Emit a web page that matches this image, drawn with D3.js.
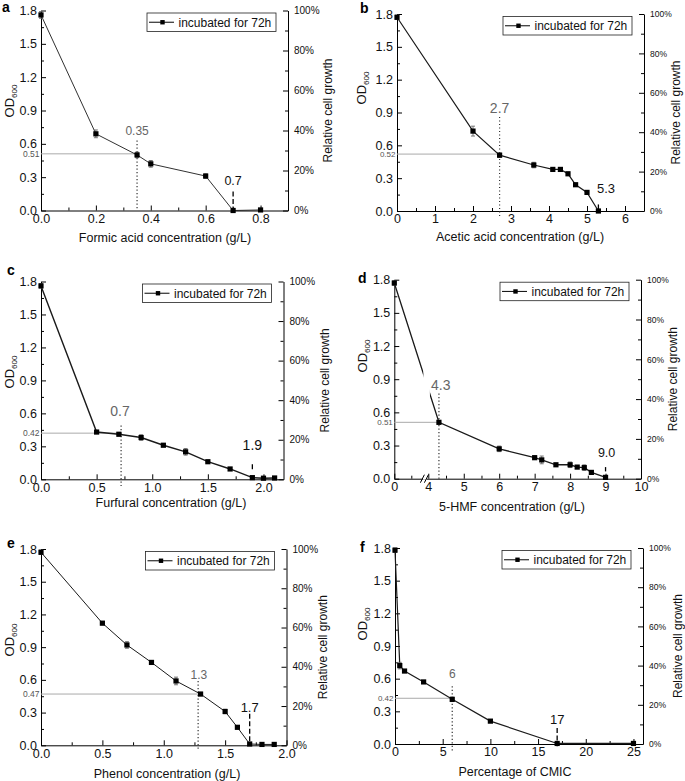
<!DOCTYPE html>
<html>
<head>
<meta charset="utf-8">
<script src="https://cdn.jsdelivr.net/npm/d3@7"></script>
<style>
  body { margin: 0; background: #fff; }
  svg { display: block; font-family: "Liberation Sans", Arial, sans-serif; }
</style>
</head>
<body>
<svg id="chart" width="685" height="781"></svg>
<script>
// shared axes
const odTicks = [0, 0.3, 0.6, 0.9, 1.2, 1.5, 1.8];
const odMinor = [0.15, 0.45, 0.75, 1.05, 1.35, 1.65];
const pctTicks = [0, 20, 40, 60, 80, 100];
const pctMinor = [10, 30, 50, 70, 90];
const legendText = "incubated for 72h";

// a - formic acid
const formicX = [0, 0.2, 0.35, 0.4, 0.6, 0.7, 0.8];
const formicOD = [1.76, 0.69, 0.5, 0.42, 0.31, 0, 0.005];
const formicErr = [0.03, 0.035, 0.025, 0.03, 0.02, 0, 0];
const formicTicks = [0, 0.2, 0.4, 0.6, 0.8];
const formicMinor = [0.1, 0.3, 0.5, 0.7];

// b - acetic acid
const aceticX = [0, 2, 2.7, 3.6, 4.1, 4.3, 4.5, 4.7, 5.0, 5.3];
const aceticOD = [1.77, 0.73, 0.51, 0.42, 0.38, 0.38, 0.34, 0.24, 0.17, 0];
const aceticErr = [0.02, 0.045, 0.02, 0.025, 0.01, 0.01, 0.015, 0, 0, 0];
const aceticTicks = [0, 1, 2, 3, 4, 5, 6];
const aceticMinor = [0.5, 1.5, 2.5, 3.5, 4.5, 5.5];

// c - furfural
const furfuralX = [0, 0.5, 0.7, 0.9, 1.1, 1.3, 1.5, 1.7, 1.9, 2.0, 2.1];
const furfuralOD = [1.76, 0.43, 0.41, 0.38, 0.31, 0.25, 0.16, 0.094, 0.015, 0.01, 0.012];
const furfuralErr = [0.02, 0.01, 0.015, 0.025, 0.01, 0.03, 0.01, 0.01, 0, 0, 0];
const furfuralTicks = [0, 0.5, 1.0, 1.5, 2.0];
const furfuralMinor = [0.25, 0.75, 1.25, 1.75];

// d - 5-HMF (broken axis between 0 and 4)
const hmfX = [0, 4.3, 6, 7, 7.2, 7.6, 8.0, 8.2, 8.4, 8.6, 9.0];
const hmfOD = [1.77, 0.51, 0.27, 0.19, 0.17, 0.126, 0.126, 0.105, 0.10, 0.057, 0.012];
const hmfErr = [0.02, 0.015, 0.025, 0.015, 0.035, 0.01, 0.025, 0.01, 0.025, 0, 0];
const hmfTicks = [0, 4, 5, 6, 7, 8, 9, 10];
const hmfMinor = [2, 4.5, 5.5, 6.5, 7.5, 8.5, 9.5];

// e - phenol
const phenolX = [0, 0.5, 0.7, 0.9, 1.1, 1.3, 1.5, 1.6, 1.7, 1.8, 1.9];
const phenolOD = [1.77, 1.12, 0.92, 0.76, 0.59, 0.47, 0.31, 0.165, 0.012, 0.008, 0.008];
const phenolErr = [0.02, 0.015, 0.03, 0.015, 0.035, 0.015, 0.02, 0.01, 0, 0, 0];
const phenolTicks = [0, 0.5, 1.0, 1.5, 2.0];
const phenolMinor = [0.25, 0.75, 1.25, 1.75];

// f - CMIC
const cmicX = [0, 0.5, 1, 3, 6, 10, 17, 25];
const cmicOD = [1.78, 0.72, 0.67, 0.57, 0.41, 0.21, 0.005, 0.005];
const cmicErr = [0.02, 0.03, 0.01, 0.01, 0.02, 0.01, 0, 0];
const cmicTicks = [0, 5, 10, 15, 20, 25];
const cmicMinor = [2.5, 7.5, 12.5, 17.5, 22.5];

// annotations: [x, y] in data units
const formicIC = { x: 0.35, od: 0.51, label: "0.35", labelAt: [0.35, 0.72], line: [0.63, 0] };
const formicMIC = { label: "0.7", x: 0.7, labelAt: [0.7, 0.27], line: [0.17, 0] };
const aceticIC = { x: 2.7, od: 0.52, label: "2.7", labelAt: [2.7, 0.94], line: [0.86, -0.06] };
const aceticMIC = { label: "5.3", x: 5.3, labelAt: [5.5, 0.21], line: [0.06, 0.015] };
const furfuralIC = { x: 0.72, od: 0.42, label: "0.7", labelAt: [0.71, 0.62], line: [0.49, -0.06] };
const furfuralMIC = { label: "1.9", x: 1.9, labelAt: [1.9, 0.31], line: [0.137, 0.085] };
const hmfIC = { x: 4.3, od: 0.51, label: "4.3", labelAt: [4.35, 0.85], line: [0.77, -0.02] };
const hmfMIC = { label: "9.0", x: 9.0, labelAt: [9.03, 0.24], line: [0.105, 0.066] };
const phenolIC = { x: 1.28, od: 0.47, label: "1.3", labelAt: [1.286, 0.65], line: [0.59, -0.05] };
const phenolMIC = { label: "1.7", x: 1.7, labelAt: [1.7, 0.35], line: [0.29, 0.02] };
const cmicIC = { x: 6, od: 0.42, label: "6", labelAt: [6, 0.65], line: [0.53, -0.06] };
const cmicMIC = { label: "17", x: 17, labelAt: [17, 0.23], line: [0.147, -0.02] };

const panels = [
  { id: "a", xs: formicX, ys: formicOD, err: formicErr, ticks: formicTicks, minor: formicMinor,
    xDomain: [0, 0.9], fmt: d3.format(".1f"), title: "Formic acid concentration (g/L)",
    ic: formicIC, mic: formicMIC,
    frame: [41, 288, 10.5, 210.5], letter: [2, 11.5], od: [9, 101], rt: 328, xt: [165, 242],
    pctSize: 10, hlSize: 8.5, icSize: 12, micSize: 12.5, lw: 0.9 },
  { id: "b", xs: aceticX, ys: aceticOD, err: aceticErr, ticks: aceticTicks, minor: aceticMinor,
    xDomain: [0, 6.5], fmt: d3.format("d"), title: "Acetic acid concentration (g/L)",
    ic: aceticIC, mic: aceticMIC,
    frame: [397, 644, 14, 211], letter: [360, 12.5], od: [361, 88], rt: 676, xt: [520, 241],
    pctSize: 8.5, hlSize: 8, icSize: 14, micSize: 13, lw: 1.2 },
  { id: "c", xs: furfuralX, ys: furfuralOD, err: furfuralErr, ticks: furfuralTicks, minor: furfuralMinor,
    xDomain: [0, 2.18], fmt: d3.format(".1f"), title: "Furfural concentration (g/L)",
    ic: furfuralIC, mic: furfuralMIC,
    frame: [41, 283.5, 281.5, 479.3], letter: [7, 275], od: [9, 372], rt: 325, xt: [171, 507],
    pctSize: 10, hlSize: 8.5, icSize: 14, micSize: 14, lw: 1.4 },
  { id: "d", xs: hmfX, ys: hmfOD, err: hmfErr, ticks: hmfTicks, minor: hmfMinor,
    xDomain: [0, 4, 10], breakAt: 3.6, fmt: d3.format("d"), title: "5-HMF concentration (g/L)",
    ic: hmfIC, mic: hmfMIC,
    frame: [394.3, 641, 279.7, 478.7], letter: [358, 283], od: [362, 356], rt: 673, xt: [512, 511],
    pctSize: 8.5, hlSize: 8, icSize: 14, micSize: 12.5, lw: 1.3 },
  { id: "e", xs: phenolX, ys: phenolOD, err: phenolErr, ticks: phenolTicks, minor: phenolMinor,
    xDomain: [0, 2.0], fmt: d3.format(".1f"), title: "Phenol concentration (g/L)",
    ic: phenolIC, mic: phenolMIC,
    frame: [41, 286.5, 549, 745.3], letter: [7, 548], od: [9, 640], rt: 323, xt: [167, 778],
    pctSize: 10, hlSize: 8.5, icSize: 12, micSize: 13, lw: 1 },
  { id: "f", xs: cmicX, ys: cmicOD, err: cmicErr, ticks: cmicTicks, minor: cmicMinor,
    xDomain: [0, 26], fmt: d3.format("d"), title: "Percentage of CMIC",
    ic: cmicIC, mic: cmicMIC,
    frame: [395, 643, 548, 744], letter: [360, 552], od: [362, 624], rt: 678, xt: [515, 776],
    pctSize: 8.5, hlSize: 8, icSize: 12, micSize: 13, lw: 1.2 }
];

const svg = d3.select("#chart");
svg.append("rect").attr("width", 685).attr("height", 781).attr("fill", "#fff");

panels.forEach(drawPanel);

function styleAxis(sel, size) {
  sel.attr("font-family", null).attr("font-size", size);
  sel.selectAll("path.domain").attr("stroke", "#000").attr("stroke-width", 1);
  sel.selectAll(".tick line").attr("stroke", "#000");
  sel.selectAll(".tick text").attr("fill", "#111");
}

function drawPanel(p) {
  const [L, R, T, B] = p.frame;
  const range = p.xDomain.length === 3 ? [L, L + 34, R] : [L, R];
  const x = d3.scaleLinear().domain(p.xDomain).range(range);
  const y = d3.scaleLinear().domain([0, 1.8]).range([B, T]);
  const yPct = d3.scaleLinear().domain([0, 100]).range([B, T]);
  const g = svg.append("g").attr("class", "panel-" + p.id);

  // minor ticks first
  g.append("g").attr("transform", `translate(${L},0)`)
    .call(d3.axisLeft(y).tickValues(odMinor).tickFormat("").tickSizeInner(-3).tickSizeOuter(0))
    .call(s => s.select(".domain").remove());
  g.append("g").attr("transform", `translate(0,${B})`)
    .call(d3.axisBottom(x).tickValues(p.minor).tickFormat("").tickSizeInner(-3).tickSizeOuter(0))
    .call(s => s.select(".domain").remove());
  g.append("g").attr("transform", `translate(${R},0)`)
    .call(d3.axisRight(yPct).tickValues(pctMinor).tickFormat("").tickSizeInner(-3).tickSizeOuter(0))
    .call(s => s.select(".domain").remove());

  // main axes
  g.append("g").attr("transform", `translate(${L},0)`)
    .call(d3.axisLeft(y).tickValues(odTicks).tickFormat(d3.format(".1f"))
      .tickSizeInner(-5).tickSizeOuter(0).tickPadding(4))
    .call(s => styleAxis(s, 12.5));
  g.append("g").attr("transform", `translate(0,${B})`)
    .call(d3.axisBottom(x).tickValues(p.ticks).tickFormat(p.fmt)
      .tickSizeInner(-5).tickSizeOuter(0).tickPadding(3.6))
    .call(s => styleAxis(s, 12.5));
  g.append("g").attr("transform", `translate(${R},0)`)
    .call(d3.axisRight(yPct).tickValues(pctTicks).tickFormat(d => d + "%")
      .tickSizeInner(-5).tickSizeOuter(0).tickPadding(6))
    .call(s => styleAxis(s, p.pctSize));

  // axis break for the 5-HMF panel
  if (p.breakAt !== undefined) {
    const bx = x(p.breakAt);
    g.append("rect").attr("x", bx - 2).attr("y", B - 1).attr("width", 4).attr("height", 2).attr("fill", "#fff");
    [-2.5, 1.5].forEach(o => {
      g.append("line")
        .attr("x1", bx + o - 2).attr("y1", B + 4)
        .attr("x2", bx + o + 2).attr("y2", B - 4)
        .attr("stroke", "#000").attr("stroke-width", 1);
    });
  }

  // panel letter
  g.append("text").attr("x", p.letter[0]).attr("y", p.letter[1])
    .attr("font-size", 14).attr("font-weight", "bold").text(p.id);

  // y title OD600
  const od = g.append("text")
    .attr("transform", `translate(${p.od[0] + 4.5},${p.od[1]}) rotate(-90)`)
    .attr("text-anchor", "middle").attr("font-size", 13).attr("fill", "#111");
  od.append("tspan").text("OD");
  od.append("tspan").attr("font-size", 8).attr("dy", 3).text("600");

  // right title
  g.append("text")
    .attr("transform", `translate(${p.rt + 4.2},${(T + B) / 2}) rotate(-90)`)
    .attr("text-anchor", "middle").attr("font-size", 12).attr("fill", "#111")
    .text("Relative cell growth");

  // x title
  g.append("text").attr("x", p.xt[0]).attr("y", p.xt[1])
    .attr("text-anchor", "middle").attr("font-size", 12.5).attr("fill", "#111")
    .text(p.title);

  // IC guide: horizontal grey line, dotted vertical, labels
  const ic = p.ic;
  g.append("line")
    .attr("x1", L).attr("x2", x(ic.x)).attr("y1", y(ic.od)).attr("y2", y(ic.od))
    .attr("stroke", "#aaa").attr("stroke-width", 1);
  g.append("text").attr("x", L - 1.5).attr("y", y(ic.od) + p.hlSize * 0.35)
    .attr("text-anchor", "end").attr("font-size", p.hlSize).attr("fill", "#555")
    .text(ic.od.toFixed(2));
  g.append("line")
    .attr("x1", x(ic.x)).attr("x2", x(ic.x)).attr("y1", y(ic.line[0])).attr("y2", y(ic.line[1]))
    .attr("stroke", "#333").attr("stroke-width", 1.2).attr("stroke-dasharray", "1.2,2.3");
  g.append("text").attr("x", x(ic.labelAt[0])).attr("y", y(ic.labelAt[1]) + p.icSize * 0.36)
    .attr("text-anchor", "middle").attr("font-size", p.icSize).attr("fill", "#666")
    .text(ic.label);

  // MIC guide: dashed vertical + black label
  const mic = p.mic;
  g.append("line")
    .attr("x1", x(mic.x)).attr("x2", x(mic.x)).attr("y1", y(mic.line[0])).attr("y2", y(mic.line[1]))
    .attr("stroke", "#000").attr("stroke-width", 1.3).attr("stroke-dasharray", "5,2.5");
  g.append("text").attr("x", x(mic.labelAt[0])).attr("y", y(mic.labelAt[1]) + p.micSize * 0.36)
    .attr("text-anchor", "middle").attr("font-size", p.micSize).attr("fill", "#111")
    .text(mic.label);

  // data line
  const pts = p.xs.map((v, i) => [v, p.ys[i], p.err[i]]);
  const line = d3.line().x(d => x(d[0])).y(d => y(d[1]));
  const path = g.append("path").datum(pts)
    .attr("d", line).attr("fill", "none")
    .attr("stroke", "#1a1a1a").attr("stroke-width", p.lw);
  if (p.breakAt !== undefined) {
    const bx = x(p.breakAt);
    const clip = svg.append("clipPath").attr("id", "clip-" + p.id);
    clip.append("rect").attr("x", 0).attr("y", 0).attr("width", bx - 1.5).attr("height", 781);
    clip.append("rect").attr("x", bx + 5).attr("y", 0).attr("width", 685).attr("height", 781);
    path.attr("clip-path", `url(#clip-${p.id})`);
  }

  // error bars
  const eb = g.append("g").attr("stroke", "#666").attr("stroke-width", 0.9);
  pts.filter(d => d[2] > 0).forEach(d => {
    const cx = x(d[0]);
    eb.append("line").attr("x1", cx).attr("x2", cx).attr("y1", y(d[1] - d[2])).attr("y2", y(d[1] + d[2]));
    [d[1] - d[2], d[1] + d[2]].forEach(v => {
      eb.append("line").attr("x1", cx - 2).attr("x2", cx + 2).attr("y1", y(v)).attr("y2", y(v));
    });
  });

  // markers
  g.append("g").selectAll("rect").data(pts).join("rect")
    .attr("x", d => x(d[0]) - 2.6).attr("y", d => y(d[1]) - 2.6)
    .attr("width", 5.2).attr("height", 5.2).attr("fill", "#000");

  // legend
  const bw = 129, bh = 18.5;
  const lx = R - 12 - bw, ly = T + 2.5;
  const lg = g.append("g").attr("transform", `translate(${lx},${ly})`);
  lg.append("rect").attr("width", bw).attr("height", bh)
    .attr("fill", "#fff").attr("stroke", "#222").attr("stroke-width", 0.8);
  lg.append("line").attr("x1", 2).attr("x2", 27).attr("y1", bh / 2).attr("y2", bh / 2)
    .attr("stroke", "#1a1a1a").attr("stroke-width", 1.1);
  lg.append("rect").attr("x", 15.5 - 2.2).attr("y", bh / 2 - 2.2).attr("width", 4.4).attr("height", 4.4).attr("fill", "#000");
  lg.append("text").attr("x", 31.5).attr("y", bh / 2 + 4.3)
    .attr("font-size", 12).attr("fill", "#111").text(legendText);
}
</script>
</body>
</html>
